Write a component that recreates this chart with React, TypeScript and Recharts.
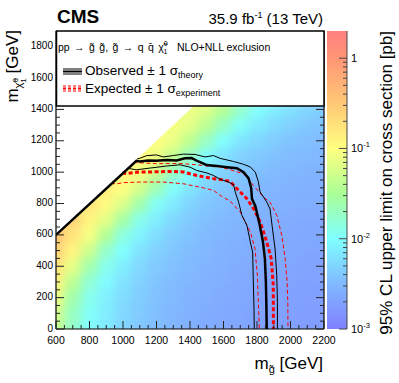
import { Area, ComposedChart, Line, ReferenceArea, XAxis, YAxis } from 'recharts'

const FONT = '"Liberation Sans", Arial, Helvetica, sans-serif'

// grid of the limit map, GeV
const gluinoMasses = [600, 700, 800, 900, 1000, 1100, 1200, 1300, 1400, 1500, 1600, 1700, 1800, 1900, 2000, 2100, 2200]
const lspMasses = [0, 100, 200, 300, 400, 500, 600, 700, 800, 900, 1000, 1100, 1200, 1300, 1400]

// log10 of the 95% CL upper limit on the cross section [pb], one row per LSP mass
const limitLog10: (number | null)[][] = [
  [-1.35, -1.75, -2.0, -2.15, -2.3, -2.4, -2.47, -2.53, -2.58, -2.62, -2.65, -2.67, -2.7, -2.72, -2.73, -2.75, -2.75],
  [-1.25, -1.7, -1.97, -2.13, -2.28, -2.38, -2.46, -2.52, -2.57, -2.61, -2.64, -2.66, -2.69, -2.71, -2.72, -2.74, -2.74],
  [-1.1, -1.6, -1.92, -2.1, -2.25, -2.36, -2.44, -2.5, -2.55, -2.59, -2.62, -2.65, -2.68, -2.7, -2.71, -2.73, -2.73],
  [-0.9, -1.4, -1.8, -2.03, -2.2, -2.33, -2.42, -2.48, -2.53, -2.57, -2.6, -2.63, -2.66, -2.68, -2.69, -2.71, -2.71],
  [-0.75, -1.15, -1.6, -1.92, -2.12, -2.28, -2.38, -2.45, -2.5, -2.55, -2.58, -2.61, -2.64, -2.66, -2.67, -2.69, -2.69],
  [-0.6, -0.9, -1.3, -1.75, -2.0, -2.2, -2.32, -2.4, -2.47, -2.52, -2.56, -2.59, -2.62, -2.64, -2.65, -2.67, -2.67],
  [-0.45, -0.75, -1.05, -1.45, -1.85, -2.08, -2.24, -2.35, -2.43, -2.49, -2.53, -2.56, -2.59, -2.61, -2.63, -2.65, -2.65],
  [null, -0.6, -0.9, -1.15, -1.55, -1.9, -2.12, -2.27, -2.38, -2.45, -2.5, -2.53, -2.56, -2.59, -2.61, -2.63, -2.63],
  [null, null, -0.75, -0.95, -1.2, -1.6, -1.95, -2.15, -2.3, -2.4, -2.46, -2.5, -2.53, -2.56, -2.58, -2.6, -2.6],
  [null, null, null, -0.85, -1.0, -1.25, -1.65, -1.98, -2.18, -2.32, -2.4, -2.46, -2.5, -2.53, -2.55, -2.57, -2.57],
  [null, null, null, null, -0.9, -1.05, -1.3, -1.7, -2.0, -2.2, -2.32, -2.4, -2.45, -2.49, -2.52, -2.54, -2.55],
  [null, null, null, null, null, -0.95, -1.1, -1.35, -1.72, -2.02, -2.2, -2.32, -2.39, -2.44, -2.48, -2.5, -2.52],
  [null, null, null, null, null, null, -1.0, -1.12, -1.38, -1.72, -2.0, -2.18, -2.28, -2.36, -2.42, -2.46, -2.48],
  [null, null, null, null, null, null, null, -1.05, -1.15, -1.4, -1.72, -1.98, -2.14, -2.25, -2.33, -2.39, -2.43],
  [null, null, null, null, null, null, null, null, -1.1, -1.2, -1.45, -1.75, -1.98, -2.12, -2.22, -2.3, -2.36],
]

// kinematic limit m_lsp = m_gluino, [m_gluino, m_lsp]
const kinematicEdge: [number, number][] = [[600, 600], [1500, 1500]]

// exclusion contours, [m_gluino, m_lsp]
const observed: [number, number][] = [
  [600, 600], [1080, 1072], [1100, 1068], [1150, 1075], [1200, 1072], [1260, 1078], [1320, 1075],
  [1370, 1088], [1410, 1090], [1450, 1068], [1500, 1045], [1560, 1040], [1620, 1032], [1680, 1025],
  [1720, 1000], [1750, 960], [1765, 900], [1770, 830], [1790, 785], [1815, 670], [1835, 560],
  [1847, 450], [1853, 300], [1856, 150], [1858, 0],
]
const observedUp: [number, number][] = [
  [1085, 1085], [1100, 1088], [1140, 1105], [1200, 1110], [1240, 1097], [1300, 1106], [1360, 1115],
  [1430, 1113], [1490, 1097], [1540, 1106], [1580, 1088], [1660, 1068], [1720, 1050], [1760, 1033],
  [1790, 1000], [1808, 940], [1818, 875], [1858, 810], [1878, 765], [1890, 660], [1908, 510],
  [1918, 340], [1922, 170], [1922, 0],
]
const observedDown: [number, number][] = [
  [1025, 1025], [1080, 1015], [1160, 1026], [1260, 1039], [1340, 1047], [1400, 1032], [1440, 1011],
  [1500, 995], [1540, 979], [1580, 955], [1630, 937], [1660, 920], [1670, 873], [1690, 810],
  [1710, 725], [1740, 660], [1760, 555], [1774, 490], [1778, 300], [1782, 130], [1784, 0],
]
const expected: [number, number][] = [
  [995, 995], [1020, 992], [1100, 1001], [1200, 1002], [1300, 1005], [1360, 1001], [1440, 979],
  [1520, 962], [1600, 950], [1640, 940], [1680, 895], [1740, 830], [1780, 767], [1820, 680],
  [1858, 555], [1885, 450], [1897, 280], [1898, 0],
]
const expectedUp: [number, number][] = [
  [1062, 1062], [1100, 1060], [1200, 1054], [1300, 1055], [1360, 1054], [1440, 1047], [1540, 1035],
  [1580, 1033], [1650, 1012], [1720, 990], [1778, 916], [1838, 841], [1878, 808], [1918, 725],
  [1948, 597], [1968, 449], [1980, 300], [1984, 170], [1985, 0],
]
const expectedDown: [number, number][] = [
  [928, 928], [960, 925], [1000, 933], [1100, 937], [1240, 937], [1360, 926], [1480, 900],
  [1540, 884], [1580, 852], [1640, 815], [1700, 746], [1760, 619], [1788, 512], [1802, 343],
  [1808, 173], [1814, 0],
]

const xMajor = [600, 800, 1000, 1200, 1400, 1600, 1800, 2000, 2200]
const yMajor = [0, 200, 400, 600, 800, 1000, 1200, 1400, 1600, 1800]
const zMajor = [0.001, 0.01, 0.1, 1]

// colour scale, log10 value -> rgb
const palette: [number, number[]][] = [
  [0.301, [255, 128, 128]],
  [0, [255, 150, 118]],
  [-0.5, [255, 200, 118]],
  [-1, [255, 255, 128]],
  [-1.5, [170, 255, 150]],
  [-2, [128, 255, 255]],
  [-2.5, [128, 185, 255]],
  [-3, [128, 128, 255]],
]
const zTop = palette[0][0]
const zBottom = palette[palette.length - 1][0]

const rgb = (c: number[]) => `rgb(${c.map((v) => Math.round(v)).join(',')})`

function colorFor(v: number) {
  for (let i = 0; i < palette.length - 1; i++) {
    const [a, ca] = palette[i]
    const [b, cb] = palette[i + 1]
    if (v <= a && v >= b) {
      const t = (a - v) / (a - b)
      return rgb(ca.map((c, k) => c + (cb[k] - c) * t))
    }
  }
  return v > zTop ? rgb(palette[0][1]) : rgb(palette[palette.length - 1][1])
}

function subdivide(majors: number[], n: number) {
  const out: number[] = []
  for (let i = 0; i < majors.length - 1; i++) {
    for (let k = 0; k < n; k++) out.push(majors[i] + ((majors[i + 1] - majors[i]) * k) / n)
  }
  out.push(majors[majors.length - 1])
  return out
}
const xTicks = subdivide(xMajor, 4)
const yTicks = subdivide(yMajor, 4)
const zTicks: number[] = []
zMajor.forEach((d) => {
  for (let k = 1; k < 10; k++) if (k * d < 2) zTicks.push(k * d)
})

const toPoints = (c: [number, number][]) => c.map(([x, y]) => ({ x, y }))

const halfX = (gluinoMasses[1] - gluinoMasses[0]) / 2
const halfY = (lspMasses[1] - lspMasses[0]) / 2
const cells = lspMasses
  .flatMap((lsp, i) => gluinoMasses.map((mg, j) => ({ mg, lsp, v: limitLog10[i][j] })))
  .filter((c) => c.v !== null) as { mg: number; lsp: number; v: number }[]
// diagonal cells first: they are padded up/left (under the white mask) so the smoothing doesn't fade at the edge
const orderedCells = [...cells.filter((c) => c.mg === c.lsp), ...cells.filter((c) => c.mg !== c.lsp)]

const isMajor = (v: number, majors: number[]) => majors.some((m) => Math.abs(m - v) < 1e-9)

const XTick = ({ x, y, payload }: any) => {
  const major = isMajor(payload.value, xMajor)
  return (
    <g>
      <line x1={x} x2={x} y1={y} y2={y - (major ? 8 : 4)} stroke="#222" />
      {major && (
        <text x={x} y={y + 14.5} textAnchor="middle" fontSize={10.5} fontFamily={FONT} fill="#000">
          {payload.value}
        </text>
      )}
    </g>
  )
}

const YTick = ({ x, y, payload }: any) => {
  const major = isMajor(payload.value, yMajor)
  return (
    <g>
      <line x1={x} x2={x + (major ? 8 : 4)} y1={y} y2={y} stroke="#222" />
      {major && (
        <text x={x - 3} y={y + 2.5} textAnchor="end" fontSize={10} fontFamily={FONT} fill="#000">
          {payload.value}
        </text>
      )}
    </g>
  )
}

const RightTick = ({ x, y, payload }: any) => {
  const major = isMajor(payload.value, yMajor)
  return <line x1={x} x2={x - (major ? 8 : 4)} y1={y} y2={y} stroke="#222" />
}

const ZTick = ({ x, y, payload }: any) => {
  const e = Math.round(Math.log10(payload.value))
  const major = Math.abs(Math.log10(payload.value) - e) < 1e-6
  return (
    <g>
      <line x1={x} x2={x - (major ? 8 : 4)} y1={y} y2={y} stroke="#444" />
      {major && (
        <text x={x + 4} y={y + 4} fontSize={11} fontFamily={FONT} fill="#000">
          {e === 0 ? '1' : '10'}
          {e !== 0 && (
            <tspan dy={-5} fontSize={7.5}>
              {e}
            </tspan>
          )}
        </text>
      )}
    </g>
  )
}

const lineProps = { type: 'linear' as const, dataKey: 'y', dot: false, activeDot: false, isAnimationActive: false }

export default function App() {
  return (
    <div style={{ position: 'absolute', left: 0, top: 0, width: 399, height: 383, background: '#fff' }}>
      {/* limit map, smoothed */}
      <div style={{ position: 'absolute', left: 56, top: 31, width: 268, height: 298, overflow: 'hidden' }}>
        <div style={{ position: 'absolute', left: -56, top: -31, filter: 'blur(5px)' }}>
          <ComposedChart width={399} height={383} margin={{ top: 31, right: 75, bottom: 54, left: 56 }}>
            <XAxis type="number" dataKey="x" domain={[600, 2200]} allowDataOverflow hide />
            <YAxis type="number" domain={[0, 1900]} allowDataOverflow hide />
            {orderedCells.map((c) => {
              const diag = c.mg === c.lsp
              return (
                <ReferenceArea
                  key={`${c.mg}-${c.lsp}`}
                  x1={c.mg - halfX * (diag ? 3 : 1)}
                  x2={c.mg + halfX}
                  y1={c.lsp - halfY}
                  y2={c.lsp + halfY * (diag ? 3 : 1)}
                  fill={colorFor(c.v)}
                  fillOpacity={1}
                  stroke={colorFor(c.v)}
                  strokeWidth={0.5}
                  ifOverflow="visible"
                />
              )
            })}
          </ComposedChart>
        </div>
      </div>

      <div style={{ position: 'absolute', left: 0, top: 0 }}>
        <ComposedChart width={399} height={383} margin={{ top: 31, right: 74, bottom: 34, left: 26 }}>
          <Area
            type="linear"
            data={toPoints(kinematicEdge)}
            dataKey="y"
            baseValue={1900}
            fill="#fff"
            fillOpacity={1}
            stroke="none"
            dot={false}
            activeDot={false}
            isAnimationActive={false}
          />
          <Line {...lineProps} data={toPoints(expectedDown)} stroke="#f00" strokeWidth={1} strokeDasharray="4 2.5" />
          <Line {...lineProps} data={toPoints(expectedUp)} stroke="#f00" strokeWidth={1} strokeDasharray="4 2.5" />
          <Line {...lineProps} data={toPoints(expected)} stroke="#f00" strokeWidth={3} strokeDasharray="4 2.5" />
          <Line {...lineProps} data={toPoints(observedDown)} stroke="#000" strokeWidth={1} />
          <Line {...lineProps} data={toPoints(observedUp)} stroke="#000" strokeWidth={1} />
          <Line {...lineProps} data={toPoints(observed)} stroke="#000" strokeWidth={2.5} />
          <XAxis
            type="number"
            dataKey="x"
            domain={[600, 2200]}
            allowDataOverflow
            ticks={xTicks}
            interval={0}
            height={20}
            tickSize={0}
            tickMargin={0}
            tickLine={false}
            tick={(p: any) => <XTick {...p} />}
            axisLine={{ stroke: '#000', strokeWidth: 1.2 }}
          />
          <YAxis
            type="number"
            domain={[0, 1900]}
            allowDataOverflow
            ticks={yTicks}
            interval={0}
            width={30}
            tickSize={0}
            tickMargin={0}
            tickLine={false}
            tick={(p: any) => <YTick {...p} />}
            axisLine={{ stroke: '#000', strokeWidth: 1.2 }}
          />
          <YAxis
            yAxisId="right"
            orientation="right"
            type="number"
            domain={[0, 1900]}
            allowDataOverflow
            ticks={yTicks}
            interval={0}
            width={1}
            tickSize={0}
            tickMargin={0}
            tickLine={false}
            tick={(p: any) => <RightTick {...p} />}
            axisLine={{ stroke: '#000', strokeWidth: 1.2 }}
          />
        </ComposedChart>
      </div>

      <div style={{ position: 'absolute', left: 300, top: 0 }}>
        <ComposedChart width={99} height={383} margin={{ top: 31, right: 12, bottom: 54, left: 27 }} data={[{ x: 0 }, { x: 1 }]}>
          <defs>
            <linearGradient id="zscale" x1="0" y1="0" x2="0" y2="1">
              {palette.map(([v, c]) => (
                <stop key={v} offset={(zTop - v) / (zTop - zBottom)} stopColor={rgb(c)} />
              ))}
            </linearGradient>
          </defs>
          <XAxis type="number" dataKey="x" domain={[0, 1]} hide />
          <ReferenceArea x1={0} x2={1} y1={0.001} y2={2} fill="url(#zscale)" fillOpacity={1} stroke="none" ifOverflow="hidden" />
          <YAxis
            orientation="right"
            type="number"
            scale="log"
            domain={[0.001, 2]}
            allowDataOverflow
            ticks={zTicks}
            interval={0}
            width={40}
            tickSize={0}
            tickMargin={0}
            tickLine={false}
            tick={(p: any) => <ZTick {...p} />}
            axisLine={{ stroke: '#444' }}
          />
        </ComposedChart>
      </div>

      <svg width={399} height={383} style={{ position: 'absolute', left: 0, top: 0, pointerEvents: 'none' }} fontFamily={FONT}>
        <text x={57} y={23} fontSize={19} fontWeight="bold">CMS</text>
        <text x={323} y={24} fontSize={15} textAnchor="end">
          35.9 fb<tspan dy={-6} fontSize={9}>-1</tspan>
          <tspan dy={6}> (13 TeV)</tspan>
        </text>

        <rect x={56.5} y={31} width={267.5} height={75} fill="#fff" stroke="#000" strokeWidth={1.5} />
        <text x={58} y={50.5} fontSize={10.5} wordSpacing={1.5}>
          pp {'\u2192'} g{'\u0303'} g{'\u0303'}, g{'\u0303'} {'\u2192'} q q{'\u0304'} {'\u03C7\u0303'}
          <tspan dy={-4.5} fontSize={7}>0</tspan>
          <tspan dx={-4} dy={8} fontSize={7}>1</tspan>
        </text>
        <text x={177} y={50.5} fontSize={10.5}>NLO+NLL exclusion</text>

        <line x1={63} x2={82} y1={69} y2={69} stroke="#000" strokeWidth={1} />
        <line x1={63} x2={82} y1={71.5} y2={71.5} stroke="#000" strokeWidth={2} />
        <line x1={63} x2={82} y1={74} y2={74} stroke="#000" strokeWidth={1} />
        <text x={85} y={75} fontSize={13.5}>
          Observed {'\u00B1'} 1 {'\u03C3'}
          <tspan dy={3} fontSize={9}>theory</tspan>
        </text>

        <line x1={63} x2={82} y1={86} y2={86} stroke="#f00" strokeWidth={1} strokeDasharray="3 2" />
        <line x1={63} x2={82} y1={88.5} y2={88.5} stroke="#f00" strokeWidth={2} strokeDasharray="3 2" />
        <line x1={63} x2={82} y1={91} y2={91} stroke="#f00" strokeWidth={1} strokeDasharray="3 2" />
        <text x={85} y={93} fontSize={13.5}>
          Expected {'\u00B1'} 1 {'\u03C3'}
          <tspan dy={3} fontSize={9}>experiment</tspan>
        </text>

        <text x={323} y={369} fontSize={17} textAnchor="end">
          m<tspan dy={4} fontSize={11}>g{'\u0303'}</tspan>
          <tspan dy={-4}> [GeV]</tspan>
        </text>
        <text x={18} y={30} fontSize={17} textAnchor="end" transform="rotate(-90, 18, 30)">
          m<tspan dy={4} fontSize={11}>{'\u03C7\u0303'}</tspan>
          <tspan dy={-4} fontSize={8}>0</tspan>
          <tspan dx={-4.5} dy={8} fontSize={8}>1</tspan>
          <tspan dy={-8}> [GeV]</tspan>
        </text>
        <text x={392} y={31} fontSize={17} textAnchor="end" transform="rotate(-90, 392, 31)">
          95% CL upper limit on cross section [pb]
        </text>
      </svg>
    </div>
  )
}
